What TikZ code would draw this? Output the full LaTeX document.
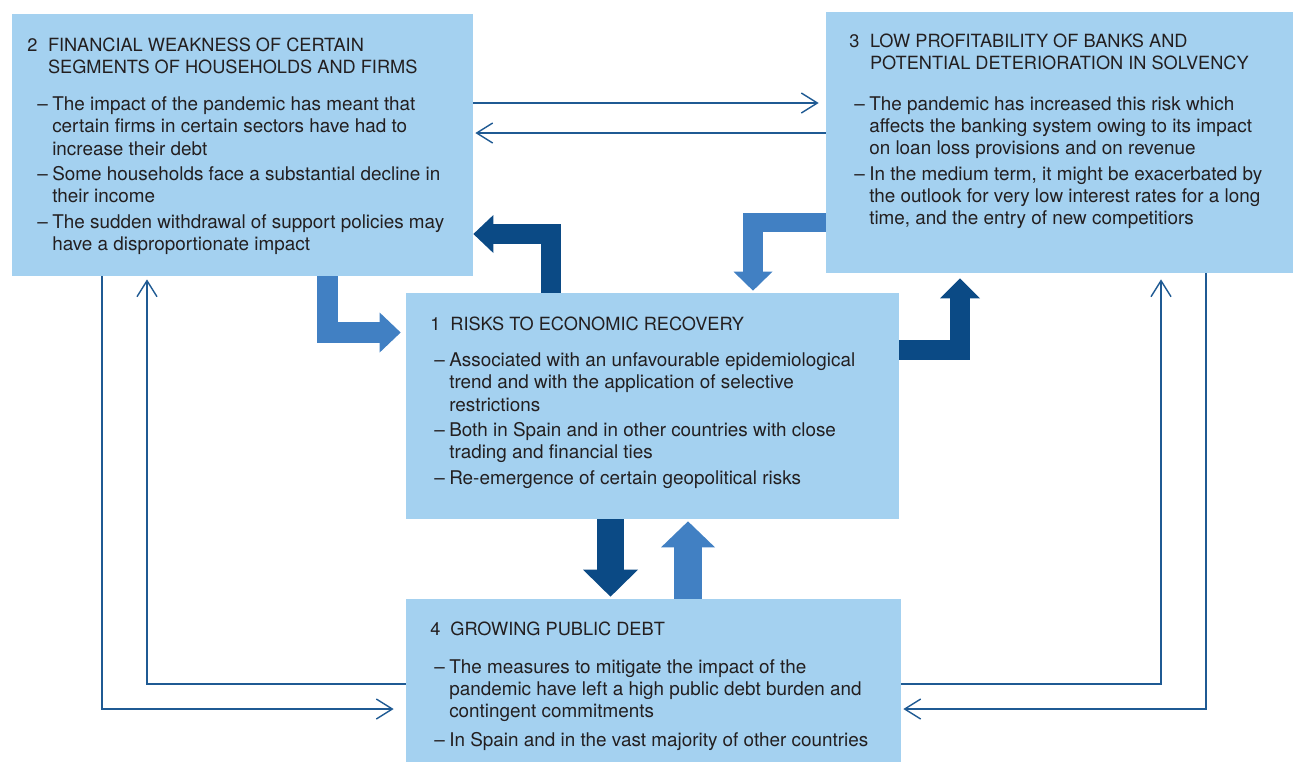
\documentclass[tikz,border=0pt]{standalone}
\usepackage{fontspec}
\setmainfont{TeX Gyre Heros}
\usetikzlibrary{arrows.meta,fit}
\definecolor{panelblue}{HTML}{A4D1F0}
\definecolor{arrowlight}{HTML}{4180C3}
\definecolor{arrowdark}{HTML}{0B4A85}
\definecolor{linkblue}{HTML}{1F5A93}
\definecolor{inkgray}{HTML}{231F20}

\begin{document}
\begin{tikzpicture}[x=0.02cm, y=-0.02cm,
  panel/.style={fill=panelblue, inner sep=0pt},
  txt/.style={anchor=base west, inner sep=0pt, text=inkgray, font=\fontsize{10.75}{12.65}\selectfont},
  head/.style={txt, font=\fontsize{10.35}{12.65}\selectfont},
  link/.style={draw=linkblue, line width=0.8pt, -{Straight Barb[length=0.32cm,width=0.4cm]}},
  fatlight/.style={draw=arrowlight, line join=miter},
  fatdark/.style={draw=arrowdark, line join=miter}]
  \useasboundingbox (0,0) rectangle (1293,762);

  \node[panel, fit={(12,14) (473,276)}] (b2) {};
  \node[panel, fit={(826,12) (1293,273)}] (b3) {};
  \node[panel, fit={(406,293) (899,519)}] (b1) {};
  \node[panel, fit={(406,599) (901,762)}] (b4) {};

  \node[head] (t2) at (27,51.7) {\begin{tabular}[t]{@{}p{11.8pt}@{}l@{}}
    2 & FINANCIAL WEAKNESS OF CERTAIN\\
      & SEGMENTS OF HOUSEHOLDS AND FIRMS
  \end{tabular}};
  \node[txt] (l2) at (37,110.7) {\begin{tabular}[t]{@{}p{8.5pt}@{}l@{}}
    -- & The impact of the pandemic has meant that\\
       & certain firms in certain sectors have had to\\
       & increase their debt\\[1.9pt]
    -- & Some households face a substantial decline in\\
       & their income\\[1.9pt]
    -- & The sudden withdrawal of support policies may\\
       & have a disproportionate impact
  \end{tabular}};

  \node[head] (t3) at (849,47.3) {\begin{tabular}[t]{@{}p{11.8pt}@{}l@{}}
    3 & LOW PROFITABILITY OF BANKS AND\\
      & POTENTIAL DETERIORATION IN SOLVENCY
  \end{tabular}};
  \node[txt] (l3) at (854,110) {\begin{tabular}[t]{@{}p{8.5pt}@{}l@{}}
    -- & The pandemic has increased this risk which\\
       & affects the banking system owing to its impact\\
       & on loan loss provisions and on revenue\\[1.9pt]
    -- & In the medium term, it might be exacerbated by\\
       & the outlook for very low interest rates for a long\\
       & time, and the entry of new competitiors
  \end{tabular}};

  \node[head] (t1) at (430,330) {\begin{tabular}[t]{@{}p{11.4pt}@{}l@{}}
    1 & RISKS TO ECONOMIC RECOVERY
  \end{tabular}};
  \node[txt] (l1) at (434,366.7) {\begin{tabular}[t]{@{}p{8.5pt}@{}l@{}}
    -- & Associated with an unfavourable epidemiological\\
       & trend and with the application of selective\\
       & restrictions\\[1.9pt]
    -- & Both in Spain and in other countries with close\\
       & trading and financial ties\\[1.9pt]
    -- & Re-emergence of certain geopolitical risks
  \end{tabular}};

  \node[head] (t4) at (430,635.7) {\begin{tabular}[t]{@{}p{11.4pt}@{}l@{}}
    4 & GROWING PUBLIC DEBT
  \end{tabular}};
  \node[txt] (l4) at (434,673.3) {\begin{tabular}[t]{@{}p{8.5pt}@{}l@{}}
    -- & The measures to mitigate the impact of the\\
       & pandemic have left a high public debt burden and\\
       & contingent commitments\\[3.5pt]
    -- & In Spain and in the vast majority of other countries
  \end{tabular}};

  \draw[link, shorten >=0.14cm] (b2.east |- 0,103) -- (b3.west |- 0,103);
  \draw[link, shorten >=0.04cm] (b3.west |- 0,133) -- (b2.east |- 0,133);
  \draw[link, shorten >=0.24cm] (b2.south -| 102,0) |- (b4.west |- 0,709);
  \draw[link, shorten >=0.06cm] (b4.west |- 0,684) -| (b2.south -| 147,0);
  \draw[link, shorten >=0.12cm] (b4.east |- 0,684) -| (b3.south -| 1161,0);
  \draw[link, shorten >=0.04cm] (b3.south -| 1206,0) |- (b4.east |- 0,709);

  \draw[fatlight, line width=0.42cm, -{Triangle[length=0.42cm,width=0.8cm,line width=0pt]}, shorten >=0.1cm]
    (b2.south -| 327.5,0) |- (b1.west |- 0,332.5);
  \draw[fatdark, line width=0.4cm, -{Triangle[length=0.4cm,width=0.76cm,line width=0pt]}]
    (b1.north -| 551,0) |- (b2.east |- 0,234);
  \draw[fatlight, line width=0.39cm, -{Triangle[length=0.38cm,width=0.78cm,line width=0pt]}, shorten >=0.04cm]
    (b3.west |- 0,222.5) -| (b1.north -| 753,0);
  \draw[fatdark, line width=0.4cm, -{Triangle[length=0.4cm,width=0.8cm,line width=0pt]}, shorten >=0.1cm]
    (b1.east |- 0,350) -| (b3.south -| 960,0);
  \draw[fatdark, line width=0.54cm, -{Triangle[length=0.54cm,width=1.1cm,line width=0pt]}, shorten >=0.04cm]
    (b1.south -| 610.5,0) -- (b4.north -| 610.5,0);
  \draw[fatlight, line width=0.56cm, -{Triangle[length=0.52cm,width=1.08cm,line width=0pt]}, shorten >=0.04cm]
    (b4.north -| 688,0) -- (b1.south -| 688,0);
\end{tikzpicture}
\end{document}
